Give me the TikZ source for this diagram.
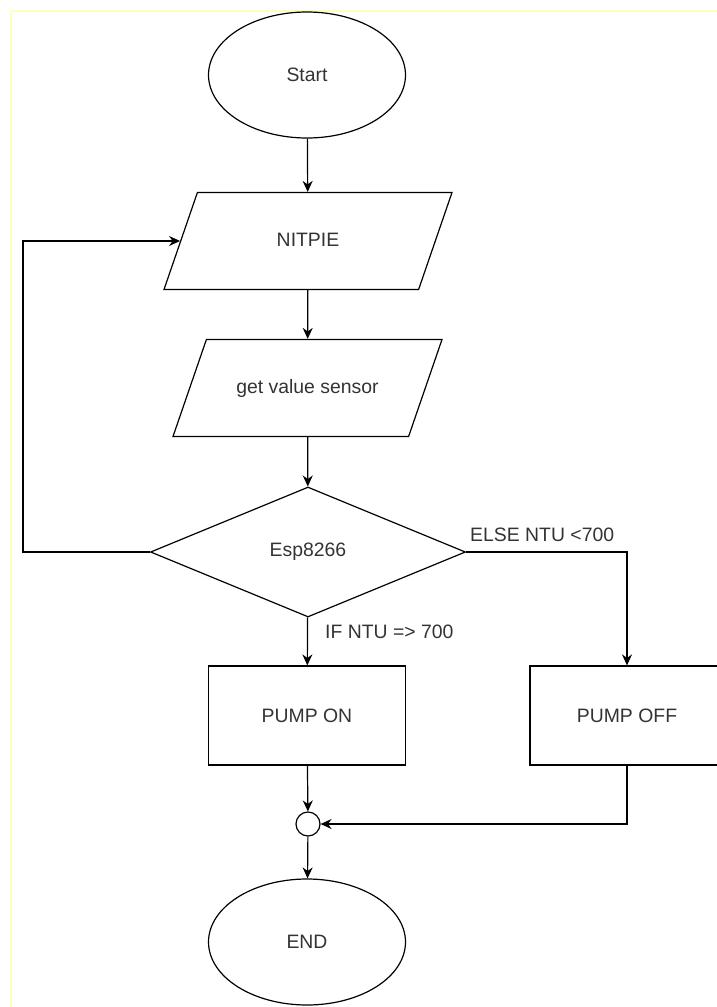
\documentclass[tikz,border=0pt]{standalone}
\usepackage{fontspec}
\setmainfont{Liberation Sans}
\usetikzlibrary{shapes.geometric,arrows.meta}
\definecolor{marginline}{RGB}{255,255,190}

\begin{document}
\begin{tikzpicture}[x=1pt,y=-1pt,
  every node/.style={font=\fontsize{19.4}{23}\selectfont, text=black!80},
  line/.style={line width=1.2pt, draw=black},
  flow/.style={line, -{Stealth[length=11pt,width=10pt]}},
  terminal/.style={ellipse, line, minimum width=197pt, minimum height=126pt, inner sep=0pt},
  inout/.style={trapezium, trapezium left angle=71, trapezium right angle=109,
    trapezium stretches body, line, text height=14pt, text depth=4pt,
    inner xsep=0pt, inner ysep=39.5pt},
  decision/.style={diamond, line, minimum width=315pt, minimum height=130pt, inner sep=0pt},
  process/.style={rectangle, line, minimum width=197pt, minimum height=99pt, inner sep=0pt},
  junction/.style={circle, line, minimum size=24pt, inner sep=0pt},
  cond/.style={anchor=west, inner sep=0pt}]
  \useasboundingbox (0,0) rectangle (717,1007);
  % Page margin
  \draw[marginline, line width=2pt] (11,1007) -- (11,11) -- (717,11);
  % Defining the blocks
  \node[terminal] (start) at (307,75) {Start};
  \node[inout, minimum width=288pt] (nitpie) at (308,241) {NITPIE};
  \node[inout, minimum width=269pt] (sensor) at (307.5,388) {get value sensor};
  \node[decision] (esp) at (308,552) {Esp8266};
  \node[process] (pumpon) at (307,715.5) {PUMP ON};
  \node[process, minimum width=194pt] (pumpoff) at (627,715.5) {PUMP OFF};
  \node[junction] (join) at (308,824) {};
  \node[terminal] (end) at (307,942) {END};
  \coordinate (loop) at (23,552);
  % Main flow
  \draw[flow] (start) -- (nitpie);
  \draw[flow] (nitpie) -- (sensor);
  \draw[flow] (sensor) -- (esp);
  \draw[flow] (esp) -- (pumpon);
  \draw[flow] (esp.east) -| (pumpoff.north);
  \draw[flow] (esp.west) -- (loop) |- (nitpie.west);
  % Merging
  \draw[flow] (pumpon) -- (join);
  \draw[flow] (pumpoff.south) |- (join.east);
  \draw[flow] (join) -- (end);
  % Labels
  \node[cond] (ifon) at (325,632) {IF NTU => 700};
  \node[cond] (elseoff) at (470,535) {ELSE NTU <700};
\end{tikzpicture}
\end{document}
